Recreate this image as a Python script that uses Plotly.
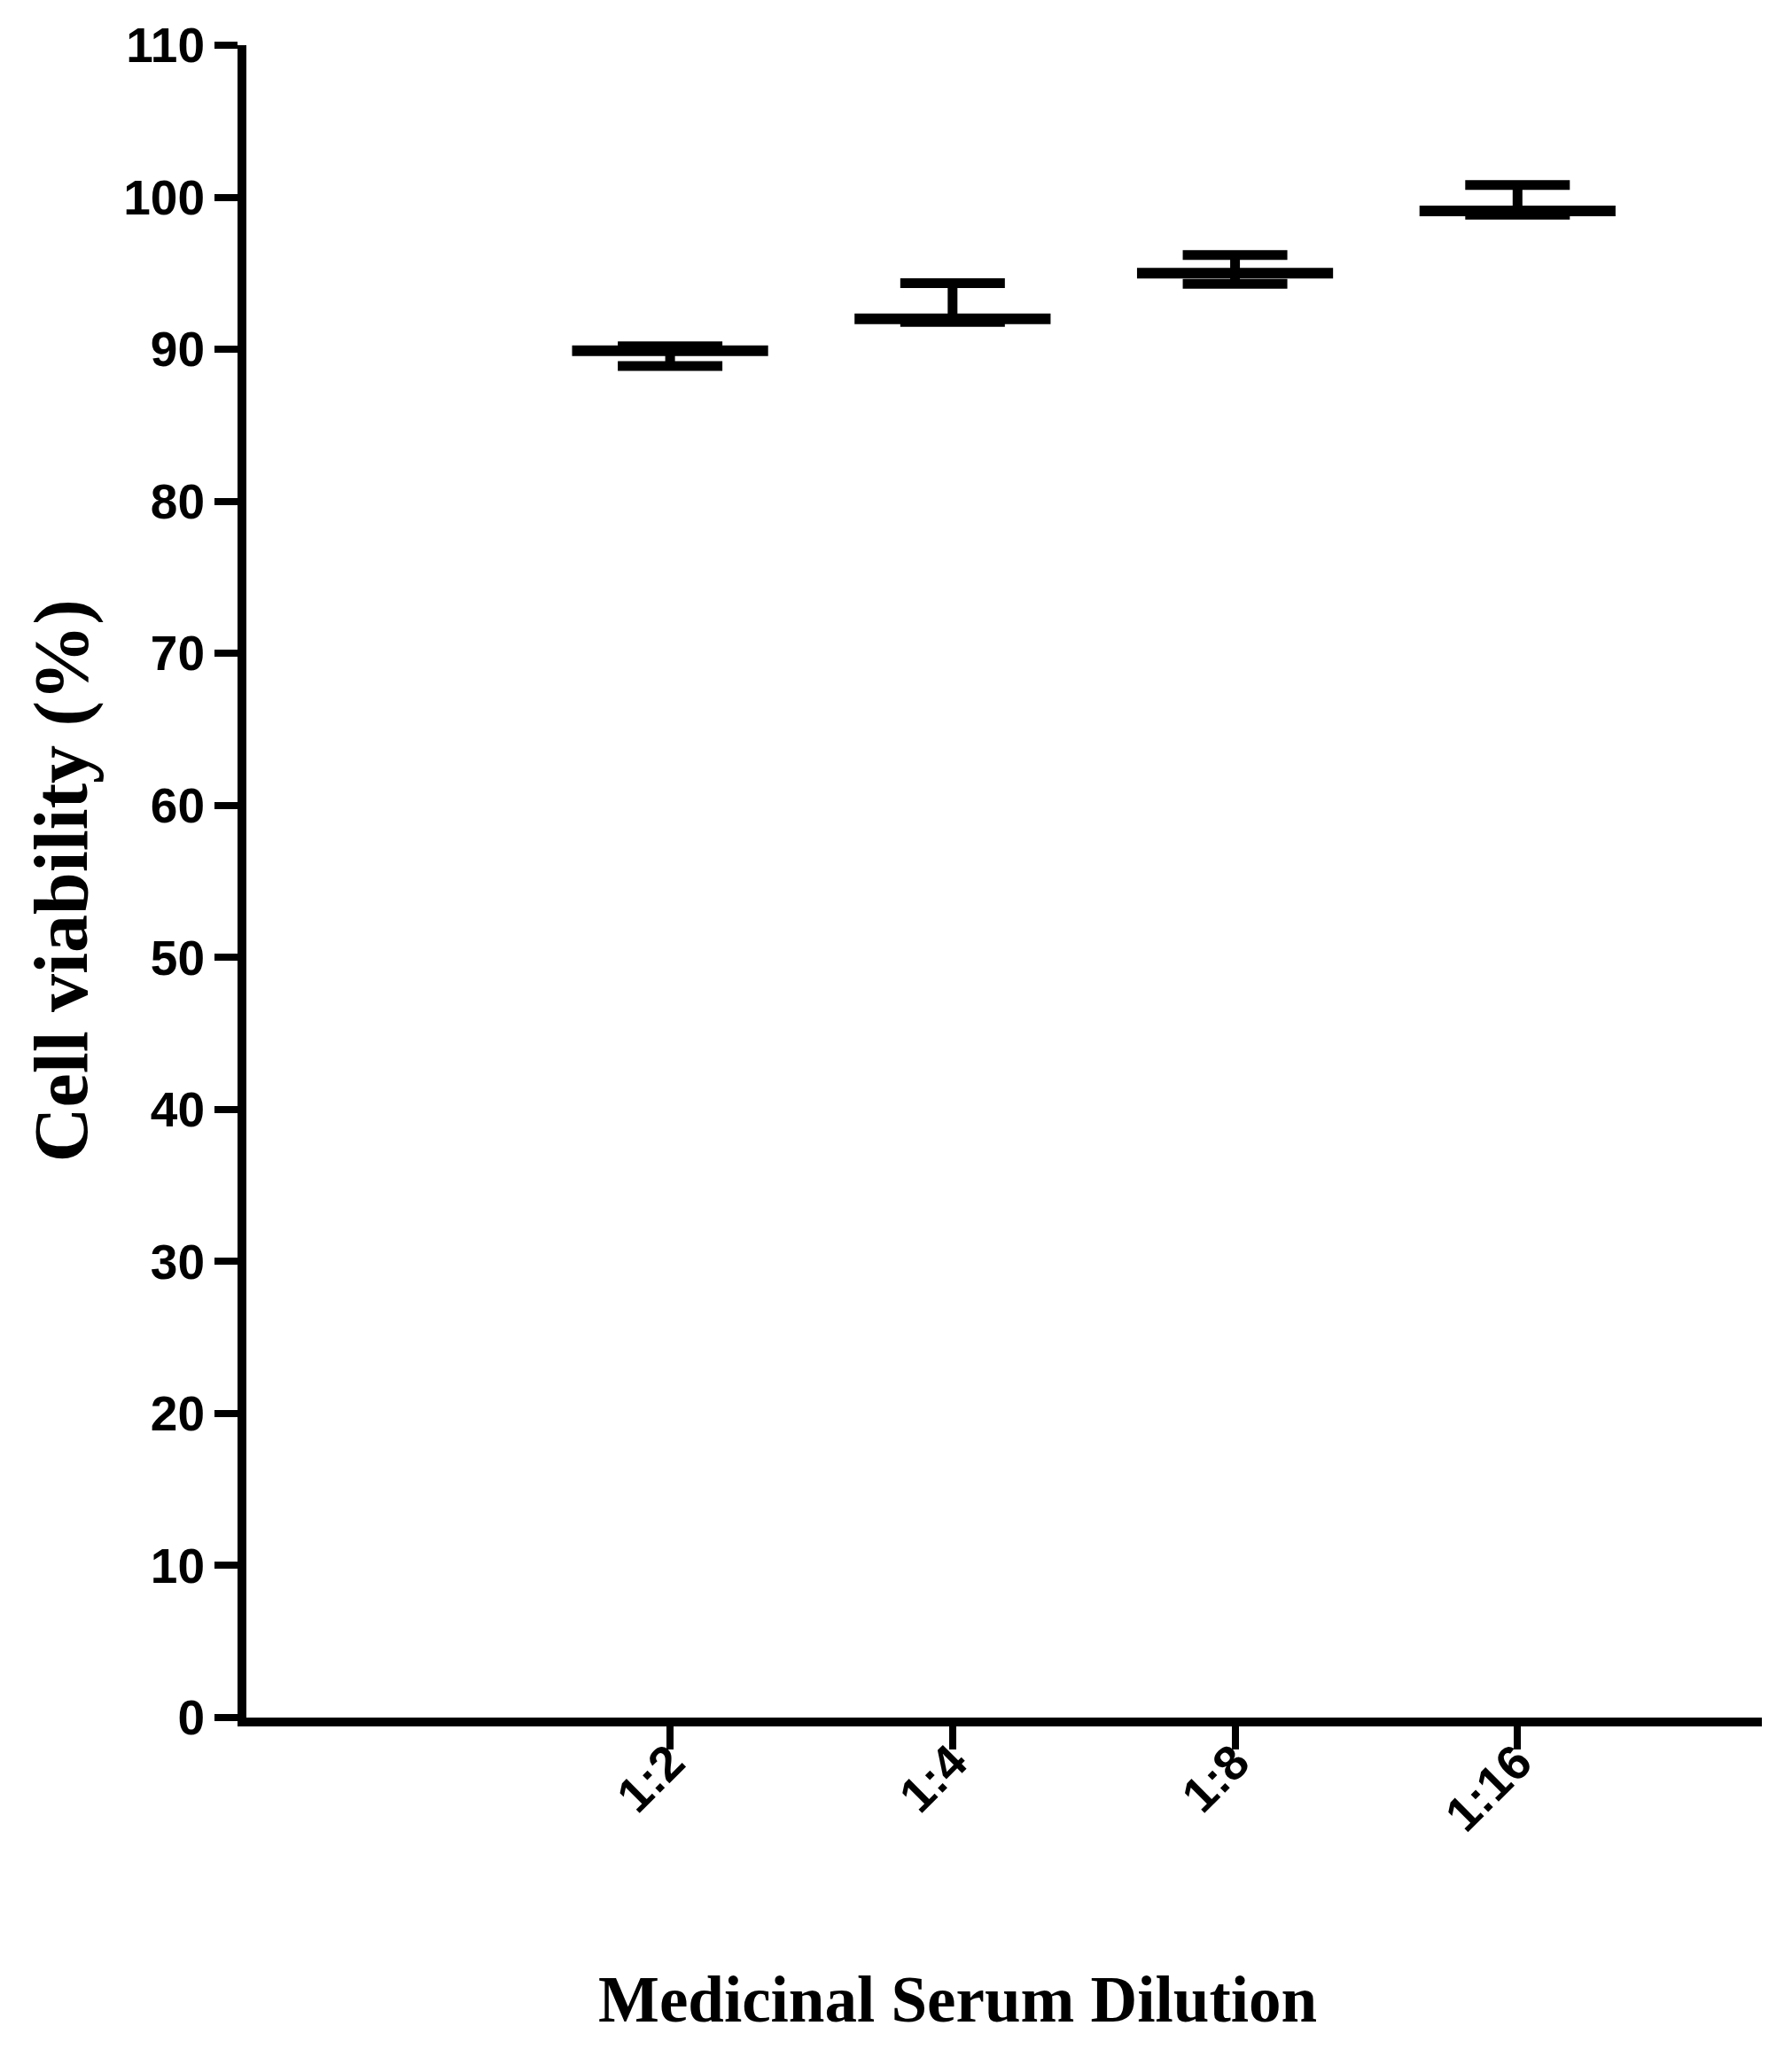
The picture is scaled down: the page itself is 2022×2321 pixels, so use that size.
import plotly.graph_objects as go

# dilution groups and read-off values (cell viability, %)
dilutions = ["1:2", "1:4", "1:8", "1:16"]
means = [89.9, 92.0, 95.0, 99.1]
upper = [90.2, 94.35, 96.2, 100.8]
lower = [88.9, 91.8, 94.3, 98.85]

y_ticks = list(range(0, 111, 10))

err_plus = [u - m for u, m in zip(upper, means)]
err_minus = [m - l for m, l in zip(means, lower)]

W, H = 2022, 2321
L, R, T, B = 270, 42, 37, 391
plot_w = W - L - R
plot_h = H - T - B

fig = go.Figure()

# mean line with asymmetric error bars
fig.add_trace(go.Scatter(
    x=dilutions,
    y=means,
    mode="markers",
    marker=dict(symbol="line-ew", size=158, color="black",
                line=dict(width=12, color="black")),
    error_y=dict(type="data", symmetric=False, array=err_plus,
                 arrayminus=err_minus, color="black",
                 thickness=11, width=59),
    showlegend=False,
    hoverinfo="skip",
))

tick_font = dict(family="Liberation Sans, Arial", size=55, color="black",
                 weight="bold")

fig.update_xaxes(
    type="category",
    range=[-1.5, 3.865],
    showline=True, linewidth=10, linecolor="black",
    ticks="outside", ticklen=26, tickwidth=8, tickcolor="black",
    tickangle=-45,
    tickfont=tick_font,
    ticklabelstandoff=-40,
    showgrid=False, zeroline=False,
)
fig.update_yaxes(
    range=[0, 110],
    tickvals=y_ticks,
    showline=True, linewidth=10, linecolor="black",
    ticks="outside", ticklen=26, tickwidth=8, tickcolor="black",
    tickfont=tick_font,
    showgrid=False, zeroline=False,
)

title_font = "Liberation Serif, Times New Roman"
fig.add_annotation(
    text="<b>Cell viability (%)</b>",
    xref="paper", yref="paper",
    x=(60 - L) / plot_w, y=0.5,
    xanchor="center", yanchor="middle",
    textangle=-90, showarrow=False,
    font=dict(family=title_font, size=86, color="black"),
)
fig.add_annotation(
    text="<b>Medicinal Serum Dilution</b>",
    xref="paper", yref="paper",
    x=(1072 - L) / plot_w, y=(H - B - 2250) / plot_h,
    xanchor="center", yanchor="middle",
    showarrow=False,
    font=dict(family=title_font, size=73, color="black"),
)

fig.update_layout(
    width=W, height=H,
    margin=dict(l=L, r=R, t=T, b=B),
    plot_bgcolor="white",
    paper_bgcolor="white",
)

fig.write_html("out.html")
